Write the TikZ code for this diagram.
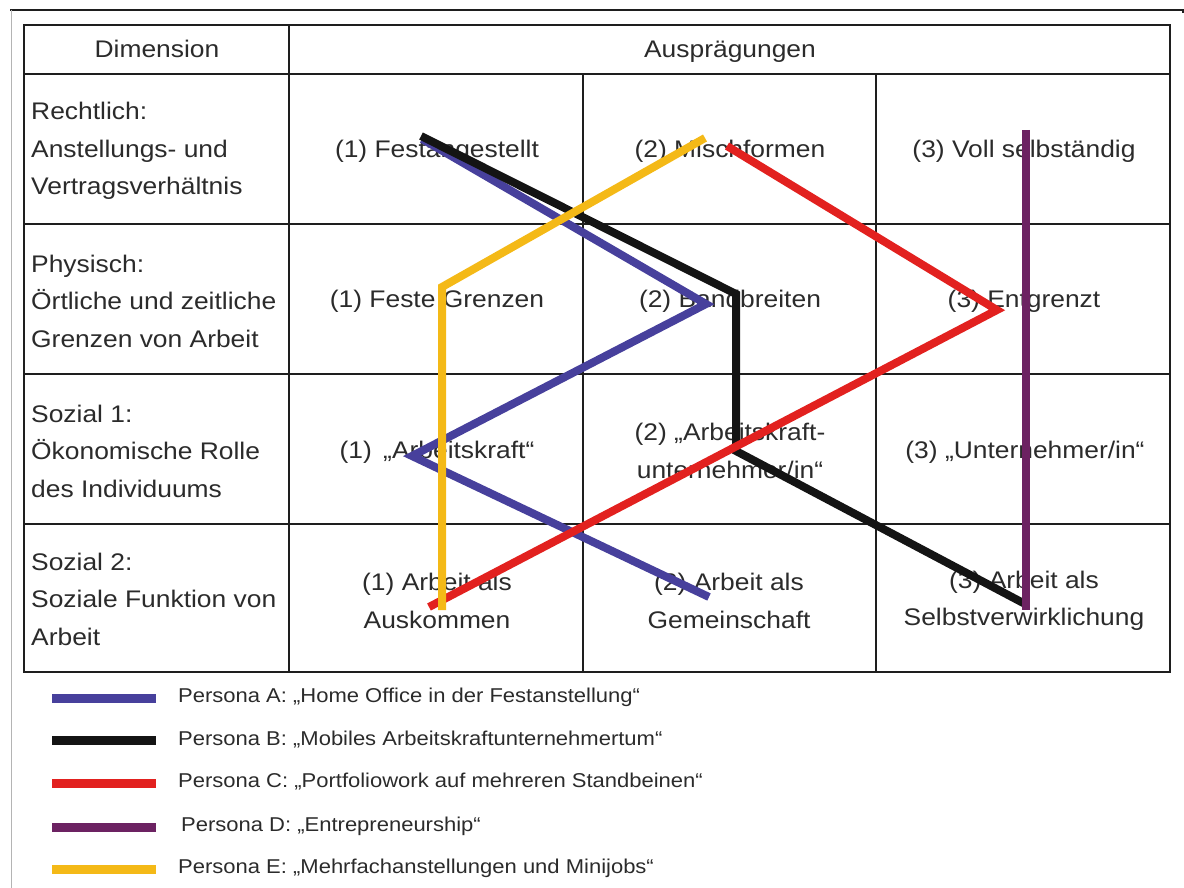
\documentclass[tikz,border=0pt]{standalone}
\usepackage{fontspec}
\setmainfont{Liberation Sans}[FakeStretch=1.1]
\usepackage{tikz}
\definecolor{ink}{HTML}{2B2B2B}
\definecolor{grid}{HTML}{1E1E1E}
\definecolor{frame}{HTML}{B4B4B4}
\definecolor{persA}{HTML}{47409C}
\definecolor{persB}{HTML}{141414}
\definecolor{persC}{HTML}{E2211F}
\definecolor{persD}{HTML}{6C2262}
\definecolor{persE}{HTML}{F4B917}
\tikzset{
  cell/.style={text=ink, font=\fontsize{24}{37.5}\selectfont, align=center, inner sep=0pt},
  oneline/.style={cell, text height=17pt, text depth=0pt},
  dimlab/.style={cell, align=left, anchor=west},
  legtxt/.style={text=ink, font=\fontsize{20}{24}\selectfont, anchor=west, inner sep=0pt},
  gridline/.style={draw=grid, line width=1.3pt},
  border/.style={draw=grid, line width=2.4pt},
  persona/.style={line width=8pt, line join=miter},
  legline/.style={line width=9pt}
}

\begin{document}
\begin{tikzpicture}[x=1pt,y=-1pt]
  \useasboundingbox (0,0) rectangle (1184,888);
  \draw[draw=grid, line width=1.4pt] (10,10) -- (1183,10) -- (1183,13);
  \draw[draw=frame, line width=1pt] (11,10) -- (11,888);

  % table grid
  \draw[gridline] (24,74) -- (1170,74);
  \draw[gridline] (24,224) -- (1170,224);
  \draw[gridline] (24,374) -- (1170,374);
  \draw[gridline] (24,524) -- (1170,524);
  \draw[gridline] (289,25) -- (289,672);
  \draw[gridline] (583,74) -- (583,672);
  \draw[gridline] (876,74) -- (876,672);
  \draw[border] (24,25) rectangle (1170,672);

  \node[oneline] (hdim) at (157,49) {Dimension};
  \node[oneline] (haus) at (730,49) {Ausprägungen};

  \node[dimlab] (dim1) at (31,151) {Rechtlich:\\Anstellungs- und\\Vertragsverhältnis};
  \node[dimlab] (dim2) at (31,301) {Physisch:\\Örtliche und zeitliche\\Grenzen von Arbeit};
  \node[dimlab] (dim3) at (31,451) {Sozial 1:\\Ökonomische Rolle\\des Individuums};
  \node[dimlab] (dim4) at (31,599) {Sozial 2:\\Soziale Funktion von\\Arbeit};

  \node[oneline] (c11) at (437,149) {(1) Festangestellt};
  \node[oneline] (c12) at (730,149) {(2) Mischformen};
  \node[oneline] (c13) at (1024,149) {(3) Voll selbständig};
  \node[oneline] (c21) at (437,299) {(1) Feste Grenzen};
  \node[oneline] (c22) at (730,299) {(2) Bandbreiten};
  \node[oneline] (c23) at (1024,299) {(3) Entgrenzt};
  \node[oneline] (c31) at (437,450) {(1) \,„Arbeitskraft“};
  \node[cell] (c32) at (730,451) {(2) „Arbeitskraft-\\unternehmer/in“};
  \node[oneline] (c33) at (1025,450) {(3) „Unternehmer/in“};
  \node[cell] (c41) at (437,601) {(1) Arbeit als\\Auskommen};
  \node[cell] (c42) at (729,601) {(2) Arbeit als\\Gemeinschaft};
  \node[cell] (c43) at (1024,601) {(3) Arbeit als\\Selbstverwirklichung};

  % persona paths
  \coordinate (a1) at (422,139); \coordinate (a2) at (706,304);
  \coordinate (a3) at (412,456); \coordinate (a4) at (709,597);
  \coordinate (b1) at (421,136); \coordinate (b2) at (736,294);
  \coordinate (b3) at (736,451); \coordinate (b4) at (1027,605);
  \coordinate (e1) at (727,146); \coordinate (e2) at (997,310);
  \coordinate (e3) at (429,607);
  \coordinate (d1) at (1026,130); \coordinate (d2) at (1026,610);
  \coordinate (m1) at (705,138); \coordinate (m2) at (442,287);
  \coordinate (m3) at (442,610);

  \draw[persona, persA] (a1) -- (a2) -- (a3) -- (a4);
  \draw[persona, persB] (b1) -- (b2) -- (b3) -- (b4);
  \draw[persona, persC] (e1) -- (e2) -- (e3);
  \draw[persona, persD] (d1) -- (d2);
  \draw[persona, persE] (m1) -- (m2) -- (m3);

  % legend
  \coordinate (lA0) at (52,698); \coordinate (lA1) at (156,698);
  \coordinate (lB0) at (52,740); \coordinate (lB1) at (156,740);
  \coordinate (lC0) at (52,783); \coordinate (lC1) at (156,783);
  \coordinate (lD0) at (52,827); \coordinate (lD1) at (156,827);
  \coordinate (lE0) at (52,869); \coordinate (lE1) at (156,869);
  \draw[legline, persA] (lA0) -- (lA1);
  \draw[legline, persB] (lB0) -- (lB1);
  \draw[legline, persC] (lC0) -- (lC1);
  \draw[legline, persD] (lD0) -- (lD1);
  \draw[legline, persE] (lE0) -- (lE1);
  \node[legtxt] (legA) at (178,697) {Persona A: „Home Office in der Festanstellung“};
  \node[legtxt] (legB) at (178,740) {Persona B: „Mobiles Arbeitskraftunternehmertum“};
  \node[legtxt] (legC) at (178,782) {Persona C: „Portfoliowork auf mehreren Standbeinen“};
  \node[legtxt] (legD) at (181,826) {Persona D: „Entrepreneurship“};
  \node[legtxt] (legE) at (178,868) {Persona E: „Mehrfachanstellungen und Minijobs“};
\end{tikzpicture}
\end{document}
